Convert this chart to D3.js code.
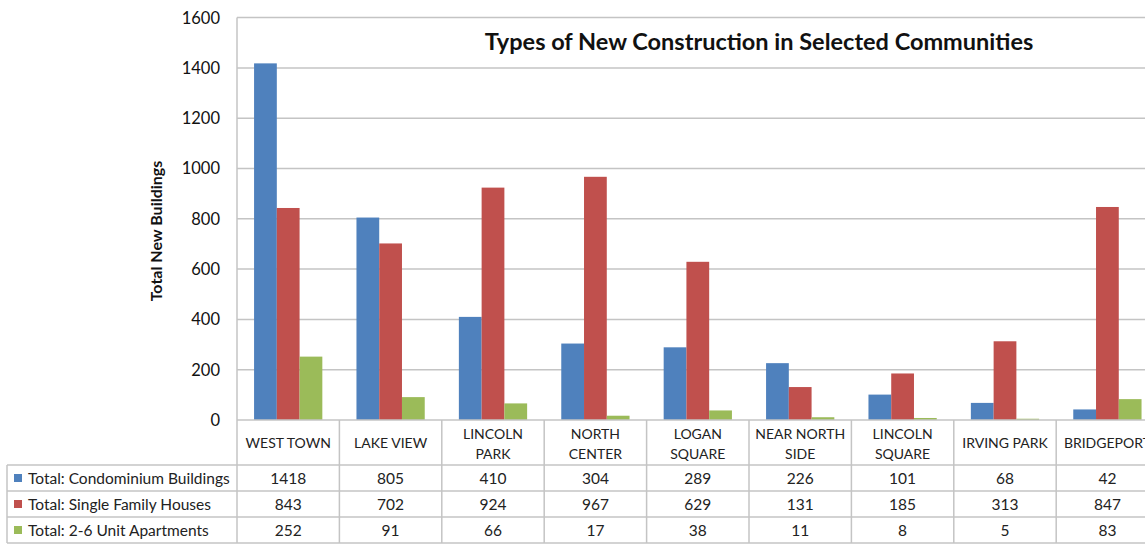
<!DOCTYPE html>
<html><head><meta charset="utf-8">
<script src="https://cdn.jsdelivr.net/npm/d3@7"></script>
<style>body{margin:0;background:#fff}svg{display:block}</style>
</head><body>
<svg id="c" width="1145" height="547"></svg>
<script>
const categories = [["WEST TOWN"],["LAKE VIEW"],["LINCOLN","PARK"],["NORTH","CENTER"],["LOGAN","SQUARE"],["NEAR NORTH","SIDE"],["LINCOLN","SQUARE"],["IRVING PARK"],["BRIDGEPORT"]];
const seriesNames = ["Total: Condominium Buildings","Total: Single Family Houses","Total: 2-6 Unit Apartments"];
const condo = [1418,805,410,304,289,226,101,68,42];
const single = [843,702,924,967,629,131,185,313,847];
const apts = [252,91,66,17,38,11,8,5,83];
const yTicks = [0,200,400,600,800,1000,1200,1400,1600];
const colors = ["#4F81BD","#C0504D","#9BBB59"];
const series = [condo, single, apts];

const svg = d3.select("#c");
const font = "Lato, 'Open Sans', sans-serif";
const left = 237, bw = 102.4;
const right = left + bw*categories.length;
const y0 = 420, yTop = 17.6;
const x = d3.scaleBand().domain(d3.range(categories.length)).range([left,right]).paddingInner(0).paddingOuter(0);
const y = d3.scaleLinear().domain([0,1600]).range([y0,yTop]);
const grid = "#c4c4c4";

// gridlines
svg.append("g").selectAll("line").data(yTicks.slice(1)).join("line")
  .attr("x1",left).attr("x2",1145).attr("y1",d=>y(d)).attr("y2",d=>y(d))
  .attr("stroke",grid).attr("stroke-width",1.5);
// y axis line
svg.append("line").attr("x1",left).attr("x2",left).attr("y1",yTop).attr("y2",y0).attr("stroke",grid).attr("stroke-width",1.5);

// y tick labels
svg.append("g").selectAll("text").data(yTicks).join("text")
  .attr("x",220).attr("y",d=>y(d)).attr("dy","0.36em").attr("text-anchor","end")
  .attr("font-family",font).attr("font-size",16.5).attr("fill","#111").text(d=>d);

// y label
svg.append("text").attr("transform",`translate(162,231) rotate(-90)`).attr("text-anchor","middle")
  .attr("font-family",font).attr("font-weight","bold").attr("font-size",16).attr("fill","#111").text("Total New Buildings");

// title
svg.append("text").attr("x",759).attr("y",50).attr("text-anchor","middle")
  .attr("font-family",font).attr("font-weight","bold").attr("font-size",23.5).attr("fill","#111")
  .text("Types of New Construction in Selected Communities");

// bars
const barW = bw/4.5;
series.forEach((s,si)=>{
  svg.append("g").selectAll("rect").data(s).join("rect")
    .attr("x",(d,i)=>x(i)+barW*0.75+si*barW)
    .attr("width",barW)
    .attr("y",d=>y(d)).attr("height",d=>y0-y(d))
    .attr("fill",colors[si]);
});

// axis line at zero
svg.append("line").attr("x1",left).attr("x2",1145).attr("y1",y0).attr("y2",y0).attr("stroke",grid).attr("stroke-width",1.5);

// table
const rowY = [465,491,517,543];
const tg = svg.append("g");
rowY.forEach(ry=>tg.append("line").attr("x1",7).attr("x2",1145).attr("y1",ry).attr("y2",ry).attr("stroke",grid).attr("stroke-width",1.5));
tg.append("line").attr("x1",7).attr("x2",7).attr("y1",465).attr("y2",543).attr("stroke",grid).attr("stroke-width",1.5);
d3.range(categories.length+1).forEach(i=>{
  const xx = left + i*bw;
  if (xx<1145) tg.append("line").attr("x1",xx).attr("x2",xx).attr("y1",y0).attr("y2",543).attr("stroke",grid).attr("stroke-width",1.5);
});
// header labels
categories.forEach((c,i)=>{
  const cx = x(i)+bw/2;
  const t = tg.append("text").attr("text-anchor","middle").attr("font-family",font).attr("font-size",14).attr("fill","#222");
  if (c.length===1) t.append("tspan").attr("x",cx).attr("y",448).text(c[0]);
  else { t.append("tspan").attr("x",cx).attr("y",439).text(c[0]); t.append("tspan").attr("x",cx).attr("y",459).text(c[1]); }
});
// rows
series.forEach((s,si)=>{
  const cy = (rowY[si]+rowY[si+1])/2;
  tg.append("rect").attr("x",14).attr("y",cy-4).attr("width",8).attr("height",8).attr("fill",colors[si]);
  tg.append("text").attr("x",28).attr("y",cy).attr("dy","0.36em").attr("font-family",font).attr("font-size",15.5).attr("fill","#222").text(seriesNames[si]);
  s.forEach((v,i)=>{
    tg.append("text").attr("x",x(i)+bw/2).attr("y",cy).attr("dy","0.36em").attr("text-anchor","middle")
      .attr("font-family",font).attr("font-size",15.5).attr("fill","#222").text(v);
  });
});
</script>
</body></html>
